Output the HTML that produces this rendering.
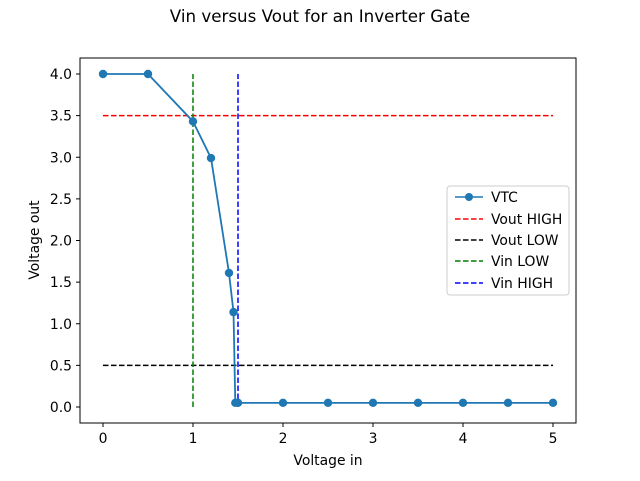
<!DOCTYPE html>
<html><head><meta charset="utf-8"><style>
body{margin:0;background:#fff;font-family:"Liberation Sans","DejaVu Sans",sans-serif;}
svg text{font-family:"DejaVu Sans","Liberation Sans",sans-serif;}
</style></head><body>
<svg id="chart" width="640" height="476">
<rect width="640" height="476" fill="#fff"/>
<text x="320" y="22" font-size="16.7" text-anchor="middle">Vin versus Vout for an Inverter Gate</text>
<g id="plot"></g>
<rect x="80" y="58" width="496" height="365" fill="none" stroke="#000" stroke-width="1"/>
<text x="328" y="465" font-size="13.9" text-anchor="middle">Voltage in</text>
<text x="0" y="0" font-size="13.9" text-anchor="middle" transform="translate(39,240) rotate(-90)">Voltage out</text>
<g>
<rect x="447" y="186" width="122" height="109" rx="3" fill="#fff" stroke="#ccc"/>
<line x1="455" y1="197" x2="483" y2="197" stroke="#1f77b4" stroke-width="1.5"/><circle cx="469" cy="197" r="4" fill="#1f77b4"/>
<text x="491" y="202" font-size="13.9">VTC</text>
<line x1="455" y1="219" x2="483" y2="219" stroke="red" stroke-width="1.5" stroke-dasharray="5.5,2.5"/>
<text x="491" y="224" font-size="13.9">Vout HIGH</text>
<line x1="455" y1="240" x2="483" y2="240" stroke="#000" stroke-width="1.5" stroke-dasharray="5.5,2.5"/>
<text x="491" y="245" font-size="13.9">Vout LOW</text>
<line x1="455" y1="261" x2="483" y2="261" stroke="green" stroke-width="1.5" stroke-dasharray="5.5,2.5"/>
<text x="491" y="266" font-size="13.9">Vin LOW</text>
<line x1="455" y1="283" x2="483" y2="283" stroke="blue" stroke-width="1.5" stroke-dasharray="5.5,2.5"/>
<text x="491" y="288" font-size="13.9">Vin HIGH</text>
</g>
</svg>
<script>
const vin=[0,0.5,1,1.2,1.4,1.45,1.47,1.5,2,2.5,3,3.5,4,4.5,5];
const vout=[4,4,3.43,2.99,1.61,1.14,0.05,0.05,0.05,0.05,0.05,0.05,0.05,0.05,0.05];
const xTicks=[0,1,2,3,4,5];
const yTicks=[0,0.5,1,1.5,2,2.5,3,3.5,4];
const voutHigh=3.5, voutLow=0.5, vinLow=1, vinHigh=1.5;
const xs=v=>103+v*90, ys=v=>407-v*83.25;
const g=document.getElementById('plot');
const NS='http://www.w3.org/2000/svg';
function mk(t,a){const e=document.createElementNS(NS,t);for(const k in a)e.setAttribute(k,a[k]);g.appendChild(e);return e;}
xTicks.forEach(v=>{
 const l=mk('line',{x1:xs(v),x2:xs(v),y1:423,y2:427,stroke:'#000'});
 
 
 const t=mk('text',{x:xs(v),y:443,'font-size':13.9,'text-anchor':'middle'});t.textContent=v;
 
 
});
yTicks.forEach(v=>{
 const l=mk('line',{x1:76,x2:80,y1:ys(v),y2:ys(v),stroke:'#000'});
 
 
 const t=mk('text',{x:72,y:ys(v)+5,'font-size':13.9,'text-anchor':'end'});t.textContent=v.toFixed(1);
 
 
});
function dash(x1,y1,x2,y2,c,n){const l=mk('line',{x1,y1,x2,y2,stroke:c,'stroke-width':1.5,'stroke-dasharray':'5.5,2.5'});
 
 }
dash(xs(0),ys(voutHigh),xs(5),ys(voutHigh),'red','vout-high-line');
dash(xs(0),ys(voutLow),xs(5),ys(voutLow),'#000','vout-low-line');
dash(xs(vinLow),ys(0),xs(vinLow),ys(4),'green','vin-low-line');
dash(xs(vinHigh),ys(0),xs(vinHigh),ys(4),'blue','vin-high-line');
const p=mk('polyline',{points:vin.map((v,i)=>xs(v)+','+ys(vout[i])).join(' '),fill:'none',stroke:'#1f77b4','stroke-width':1.8});


vin.forEach((v,i)=>{const c=mk('circle',{cx:xs(v),cy:ys(vout[i]),r:4.2,fill:'#1f77b4'});
 
 });
</script>
</body></html>
